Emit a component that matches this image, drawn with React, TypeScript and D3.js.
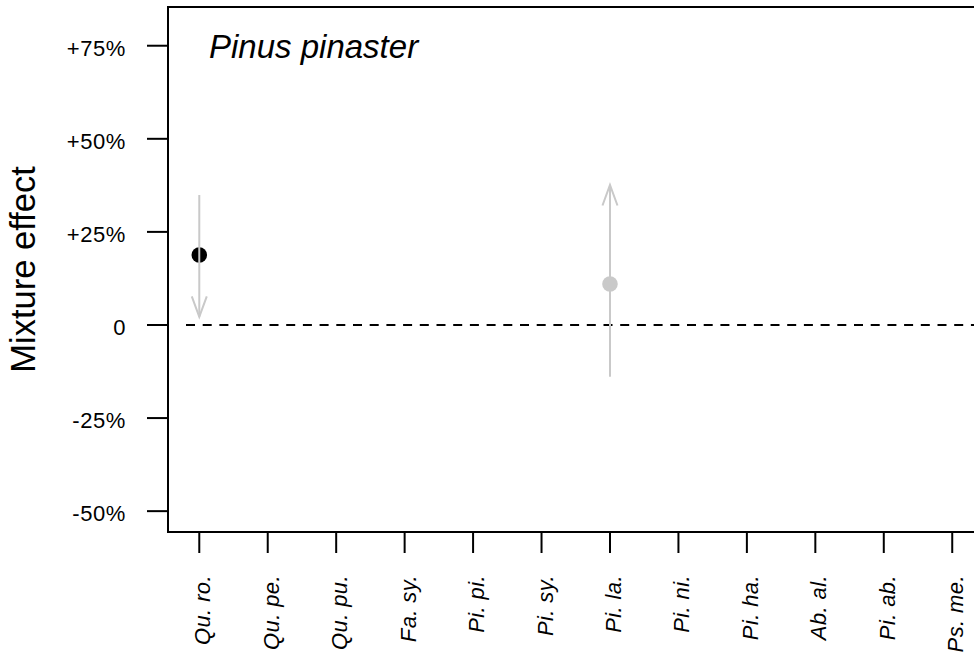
import React from "react";
import * as d3 from "d3";

// Species codes along the x axis
const species = [
  "Qu. ro.", "Qu. pe.", "Qu. pu.", "Fa. sy.", "Pi. pi.", "Pi. sy.",
  "Pi. la.", "Pi. ni.", "Pi. ha.", "Ab. al.", "Pi. ab.", "Ps. me.",
];

// Estimated mixture effects (%) for the focal species
const effectSpecies = ["Qu. ro.", "Pi. la."];
const effectValue = [18.8, 11.0];
const effectSignificant = [true, false];

// Arrows: start and end of each range (%)
const arrowFrom = [34.9, -13.9];
const arrowTo = [2.2, 37.6];

// Y axis ticks (%)
const yTicks = [-50, -25, 0, 25, 50, 75];

const W = 974;
const H = 657;
const FONT = "'Liberation Sans', Arial, sans-serif";

const fmtTick = (v: number) => (v === 0 ? "0" : v > 0 ? `+${v}%` : `${v}%`);

export default function App() {
  const left = 168;
  const top = 7;
  const bottom = 532;
  const step = 68.45;

  const x = d3
    .scaleLinear()
    .domain([0.543, 12.457])
    .range([left, left + (12.457 - 0.543) * step]);
  const y = d3.scaleLinear().domain([-55.6, 85.4]).range([bottom, top]);

  const xOf = (name: string) => x(species.indexOf(name) + 1);
  const right = x.range()[1];

  const grey = "#c9c9c9";
  const headLen = 20.5;
  const headHalf = 7.5;

  return (
    <svg
      width={W}
      height={H}
      style={{ position: "absolute", left: 0, top: 0, background: "#fff" }}
      fontFamily={FONT}
    >
      {/* zero reference line */}
      <line
        x1={left + 18}
        x2={right}
        y1={y(0)}
        y2={y(0)}
        stroke="#000"
        strokeWidth={2}
        strokeDasharray="9 7.7"
      />

      {/* points */}
      {effectSpecies.map((s, i) => (
        <circle
          key={`p${s}`}
          cx={xOf(s)}
          cy={y(effectValue[i])}
          r={7.8}
          fill={effectSignificant[i] ? "#000" : grey}
        />
      ))}

      {/* arrows */}
      {effectSpecies.map((s, i) => {
        const cx = xOf(s);
        const y0 = y(arrowFrom[i]);
        const y1 = y(arrowTo[i]);
        const dir = y1 > y0 ? -1 : 1;
        const hy = y1 + dir * headLen;
        const path = `M${cx - headHalf},${hy}L${cx},${y1}L${cx + headHalf},${hy}`;
        return (
          <g key={`a${s}`} stroke={grey} strokeWidth={2} fill="none">
            <line x1={cx} x2={cx} y1={y0} y2={y1} />
            <path d={path} strokeLinejoin="miter" />
          </g>
        );
      })}

      {/* frame */}
      <rect
        x={left}
        y={top}
        width={right - left}
        height={bottom - top}
        fill="none"
        stroke="#000"
        strokeWidth={2}
      />

      {/* y axis */}
      {yTicks.map((t) => (
        <g key={`y${t}`}>
          <line x1={left - 21} x2={left} y1={y(t)} y2={y(t)} stroke="#000" strokeWidth={2} />
          <text
            x={left - 42}
            y={y(t) + 10}
            textAnchor="end"
            fontSize={22}
            letterSpacing={0.6}
            fill="#000"
          >
            {fmtTick(t)}
          </text>
        </g>
      ))}

      {/* x axis */}
      {species.map((s, i) => {
        const tx = x(i + 1);
        return (
          <g key={`x${s}`}>
            <line x1={tx} x2={tx} y1={bottom} y2={bottom + 21} stroke="#000" strokeWidth={2} />
            <text
              transform={`translate(${tx + 11},575) rotate(-90)`}
              textAnchor="end"
              fontSize={22}
              letterSpacing={0.4}
              fontStyle="italic"
              fill="#000"
            >
              {s}
            </text>
          </g>
        );
      })}

      {/* axis title */}
      <text
        transform={`translate(35,269.5) rotate(-90)`}
        textAnchor="middle"
        fontSize={34.5}
        fill="#000"
      >
        Mixture effect
      </text>

      {/* panel title */}
      <text x={209} y={58} fontSize={33} fontStyle="italic" fill="#000">
        Pinus pinaster
      </text>
    </svg>
  );
}
